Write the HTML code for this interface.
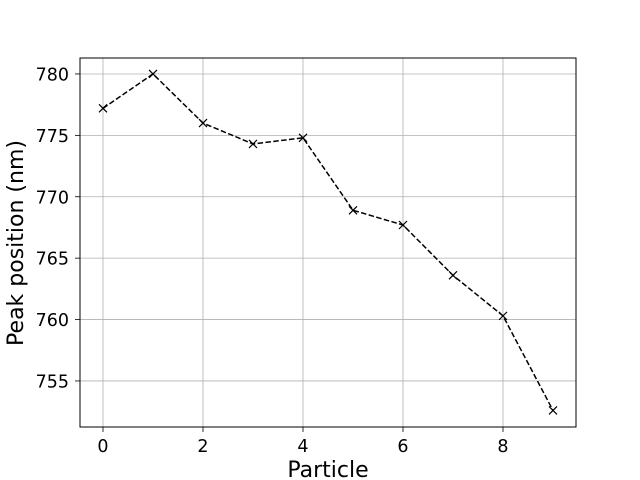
<!DOCTYPE html>
<html><head><meta charset="utf-8">
<style>
html,body{margin:0;padding:0;background:#fff;}
svg{display:block;font-family:"DejaVu Sans","Liberation Sans",sans-serif;}
</style></head>
<body>
<svg id="chart" width="640" height="480" viewBox="0 0 640 480">
<rect x="0" y="0" width="640" height="480" fill="#fff"/>
<g id="grid"></g>
<g id="series"></g>
<rect x="80" y="58" width="496" height="369" fill="none" stroke="#000" stroke-width="1"/>
<g id="ticks"></g>
<text x="328" y="477" text-anchor="middle" font-size="22">Particle</text>
<text transform="translate(23,243) rotate(-90)" text-anchor="middle" font-size="22">Peak position (nm)</text>
</svg>
<script>
const particles = [0,1,2,3,4,5,6,7,8,9];
const peaks = [777.2,780.0,776.0,774.3,774.8,768.9,767.7,763.6,760.3,752.6];
const xTicks = [0,2,4,6,8];
const yTicks = [755,760,765,770,775,780];

const L=80,R=576,T=58,B=427;
const xMin=-0.46,xMax=9.46,yMin=751.25,yMax=781.3;
const sx=v=>L+(v-xMin)/(xMax-xMin)*(R-L);
const sy=v=>B-(v-yMin)/(yMax-yMin)*(B-T);
const NS="http://www.w3.org/2000/svg";
function mk(tag,attrs,parent){const e=document.createElementNS(NS,tag);for(const k in attrs)e.setAttribute(k,attrs[k]);parent.appendChild(e);return e;}
const grid=document.getElementById('grid'),ticks=document.getElementById('ticks'),series=document.getElementById('series');

xTicks.forEach(v=>{
  const x=sx(v);
  const g=mk('line',{x1:x,x2:x,y1:T,y2:B,stroke:'#b0b0b0','stroke-width':0.8},grid);
  
  
  const t=mk('line',{x1:x,x2:x,y1:B,y2:B+5,stroke:'#000','stroke-width':0.8},ticks);
  
  
  const lb=mk('text',{x:x,y:B+25,'text-anchor':'middle','font-size':17.5},ticks);
  lb.textContent=v;
  
  
});
yTicks.forEach(v=>{
  const y=sy(v);
  const g=mk('line',{x1:L,x2:R,y1:y,y2:y,stroke:'#b0b0b0','stroke-width':0.8},grid);
  
  
  const t=mk('line',{x1:L-5,x2:L,y1:y,y2:y,stroke:'#000','stroke-width':0.8},ticks);
  
  
  const lb=mk('text',{x:L-11,y:y+6.5,'text-anchor':'end','font-size':17.5},ticks);
  lb.textContent=v;
  
  
});
const pts=particles.map((p,i)=>sx(p)+','+sy(peaks[i])).join(' ');
const line=mk('polyline',{points:pts,fill:'none',stroke:'#000','stroke-width':1.5,'stroke-dasharray':'5.5,2.4'},series);


particles.forEach((p,i)=>{
  const x=sx(p),y=sy(peaks[i]),s=4;
  const m=mk('path',{d:`M${x-s},${y-s}L${x+s},${y+s}M${x-s},${y+s}L${x+s},${y-s}`,stroke:'#000','stroke-width':1.2,fill:'none'},series);
  
  
});
</script>
</body></html>
